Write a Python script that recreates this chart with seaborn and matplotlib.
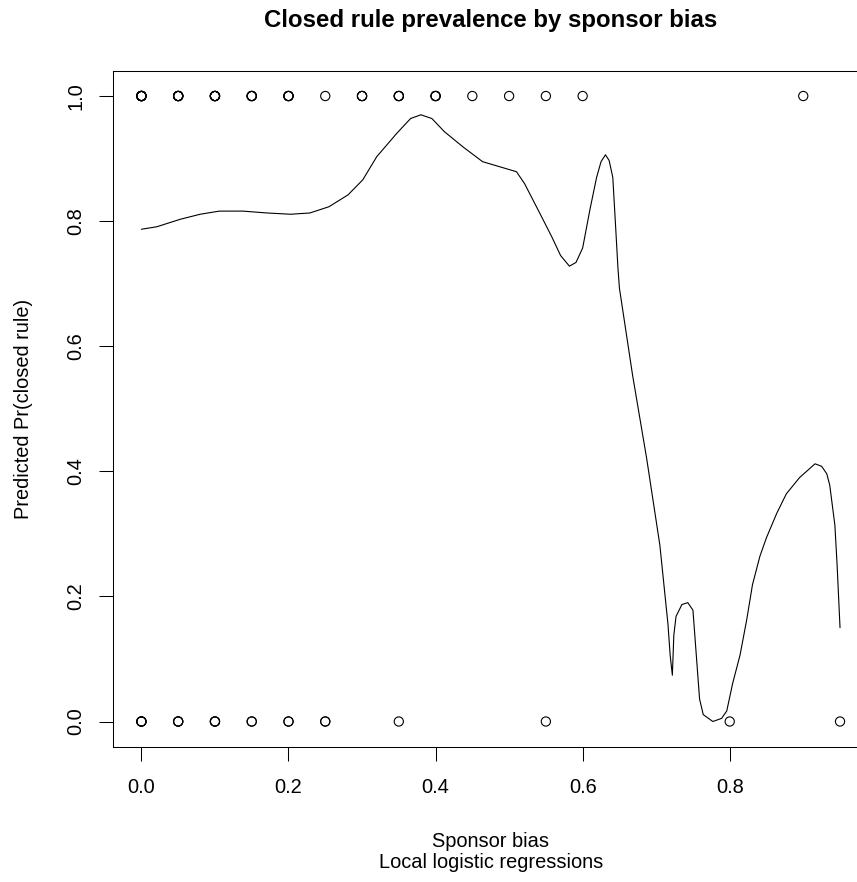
import numpy as np
import pandas as pd
import matplotlib
matplotlib.use("Agg")
import matplotlib.pyplot as plt
import seaborn as sns

# observed bills: sponsor bias and how many sit on the same spot
closed_bias = [0.0, 0.05, 0.1, 0.15, 0.2, 0.25, 0.3, 0.35, 0.4, 0.45, 0.5, 0.55, 0.6, 0.9]
closed_count = [8, 6, 6, 4, 4, 1, 3, 3, 3, 1, 1, 1, 1, 1]
open_bias = [0.0, 0.05, 0.1, 0.15, 0.2, 0.25, 0.35, 0.55, 0.8, 0.95]
open_count = [4, 3, 3, 2, 2, 2, 1, 1, 1, 1]

# local logistic regression fit
curve_x = [0.000, 0.021, 0.053, 0.080, 0.106, 0.138, 0.171, 0.203, 0.229, 0.255,
           0.281, 0.301, 0.320, 0.347, 0.366, 0.380, 0.395, 0.412, 0.438, 0.464,
           0.487, 0.510, 0.521, 0.542, 0.558, 0.570, 0.582, 0.591, 0.600, 0.610,
           0.619, 0.625, 0.631, 0.636, 0.641, 0.645, 0.648, 0.650, 0.668, 0.687,
           0.705, 0.716, 0.719, 0.722, 0.724, 0.727, 0.735, 0.743, 0.750, 0.759,
           0.764, 0.777, 0.789, 0.796, 0.804, 0.814, 0.823, 0.831, 0.841, 0.850,
           0.864, 0.877, 0.895, 0.916, 0.925, 0.932, 0.936, 0.943, 0.946, 0.950]
curve_y = [0.787, 0.791, 0.803, 0.811, 0.816, 0.816, 0.813, 0.811, 0.813, 0.823,
           0.842, 0.866, 0.903, 0.940, 0.964, 0.970, 0.964, 0.943, 0.918, 0.895,
           0.887, 0.879, 0.860, 0.812, 0.775, 0.745, 0.728, 0.734, 0.757, 0.819,
           0.870, 0.895, 0.906, 0.897, 0.870, 0.788, 0.725, 0.693, 0.553, 0.421,
           0.282, 0.156, 0.106, 0.074, 0.138, 0.168, 0.187, 0.190, 0.178, 0.036,
           0.011, 0.000, 0.005, 0.017, 0.061, 0.106, 0.162, 0.219, 0.264, 0.294,
           0.333, 0.364, 0.390, 0.412, 0.408, 0.396, 0.378, 0.314, 0.251, 0.150]

x_ticks = [0.0, 0.2, 0.4, 0.6, 0.8]
y_ticks = [0.0, 0.2, 0.4, 0.6, 0.8, 1.0]

points = pd.DataFrame({
    "bias": np.concatenate([np.repeat(closed_bias, closed_count), np.repeat(open_bias, open_count)]),
    "closed": np.concatenate([np.ones(sum(closed_count)), np.zeros(sum(open_count))]),
})
fit = pd.DataFrame({"bias": curve_x, "pr": curve_y})

sns.set_style("ticks")
plt.rcParams['font.family'] = ['Liberation Sans', 'DejaVu Sans']
plt.rcParams['text.color'] = 'black'
plt.rcParams['xtick.color'] = 'black'
plt.rcParams['ytick.color'] = 'black'
plt.rcParams['axes.labelcolor'] = 'black'
fs = 14.4

fig = plt.figure(figsize=(8.57, 8.82), dpi=100)
ax = fig.add_axes([0.1324, 0.1536, 0.8804, 0.7659])

sns.scatterplot(data=points, x="bias", y="closed", marker="o", s=44,
                facecolor="none", edgecolor="black", linewidth=0.8, ax=ax, zorder=3)
sns.lineplot(data=fit, x="bias", y="pr", sort=False, estimator=None,
             color="black", linewidth=0.8, ax=ax)

ax.set_xlim(-0.038, 0.988)
ax.set_ylim(-0.04, 1.04)
ax.set_xticks(x_ticks)
ax.set_xticklabels([f"{t:.1f}" for t in x_ticks])
ax.set_yticks(y_ticks)
ax.set_yticklabels([f"{t:.1f}" for t in y_ticks], rotation=90, va="center")
ax.tick_params(direction="out", length=10, width=0.75, color="black", labelsize=fs)
ax.tick_params(axis="x", pad=13)
ax.tick_params(axis="y", pad=10)
for sp in ax.spines.values():
    sp.set_linewidth(0.75)
    sp.set_color("black")
ax.set_xlabel("")
ax.set_ylabel("")

fig.text(0.5726, 1 - 27 / 882, "Closed rule prevalence by sponsor bias",
         ha="center", va="baseline", fontsize=fs * 1.2, fontweight="bold")
fig.text(0.5726, 1 - 847 / 882, "Sponsor bias", ha="center", va="baseline", fontsize=fs)
fig.text(0.5726, 1 - 868 / 882, "Local logistic regressions", ha="center", va="baseline", fontsize=fs)
fig.text(24 / 857, 1 - 408.5 / 882, "Predicted Pr(closed rule)", rotation=90,
         ha="center", va="center", fontsize=fs)

plt.savefig("out.png", dpi=100)
plt.close()
